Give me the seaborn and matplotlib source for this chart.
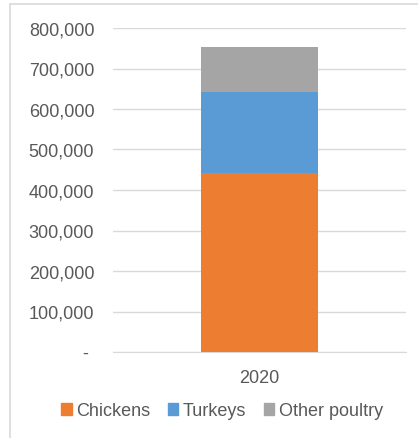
import matplotlib
matplotlib.use("Agg")
import matplotlib.pyplot as plt
import matplotlib.patches as mpatches
import seaborn as sns
import pandas as pd

# data
years = ["2020"]
chickens = [443000]
turkeys = [199000]
other_poultry = [111000]

series = ["Chickens", "Turkeys", "Other poultry"]
colors = ["#ED7D31", "#5B9BD5", "#A5A5A5"]
ticks = [0, 100000, 200000, 300000, 400000, 500000, 600000, 700000, 800000]

df = pd.DataFrame({"year": years, "Chickens": chickens,
                   "Turkeys": turkeys, "Other poultry": other_poultry})

sns.set_style("white")
plt.rcParams["font.family"] = ["Liberation Sans", "DejaVu Sans"]
text_col = "#595959"

fig = plt.figure(figsize=(4.18, 4.39), dpi=100)
ax = fig.add_axes([113 / 418, 1 - 353 / 439, 293 / 418, 324 / 439])

bottom = pd.Series([0] * len(df))
for name, col in zip(series, colors):
    sns.barplot(data=df, x="year", y=name, color=col, width=0.4,
                bottom=bottom.values, ax=ax, saturation=1, zorder=3,
                linewidth=0, edgecolor="none")
    bottom = bottom + df[name]

ax.set_xlim(-0.5, 0.5)
ax.set_ylim(0, 800000)
ax.set_yticks(ticks)
ax.set_yticklabels([f"{v:,.0f}" if v else "- " for v in ticks])
ax.set_xlabel("")
ax.set_ylabel("")
ax.grid(axis="y", color="#D9D9D9", linewidth=1, zorder=0)
for s in ["top", "right", "left"]:
    ax.spines[s].set_visible(False)
ax.spines["bottom"].set_color("#D9D9D9")
ax.tick_params(axis="both", length=0, labelsize=13, labelcolor=text_col)
ax.tick_params(axis="y", pad=13.5)
ax.tick_params(axis="x", pad=12)

handles = [mpatches.Patch(color=c, label=n) for n, c in zip(series, colors)]
fig.legend(handles=handles, loc="center", bbox_to_anchor=(222 / 418, 1 - 412 / 439),
           ncol=3, frameon=False, fontsize=13, labelcolor=text_col,
           handlelength=0.6, handleheight=0.6, handletextpad=0.25, columnspacing=0.95)

# chart area border (only the top and left edges are inside the crop)
fig.add_artist(mpatches.Rectangle((10 / 418, -0.1), 1.2, 1 - 5 / 439 + 0.1,
                                  transform=fig.transFigure, fill=False,
                                  edgecolor="#D9D9D9", linewidth=1.2))

fig.savefig("out.png", dpi=100)
